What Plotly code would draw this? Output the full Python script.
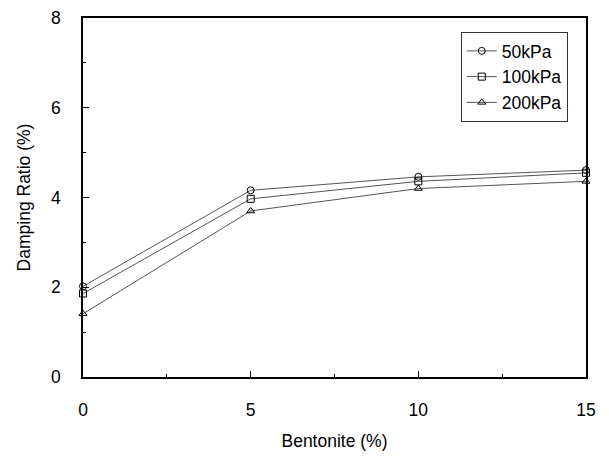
import plotly.graph_objects as go

bentonite = [0, 5, 10, 15]
series_names = ["50kPa", "100kPa", "200kPa"]
damping_50 = [2.02, 4.16, 4.46, 4.61]
damping_100 = [1.86, 3.97, 4.36, 4.55]
damping_200 = [1.41, 3.70, 4.20, 4.36]
x_ticks = [0, 5, 10, 15]
y_ticks = [0, 2, 4, 6, 8]

symbols = ["circle-open", "square-open", "triangle-up-open"]
values = [damping_50, damping_100, damping_200]

fig = go.Figure()
for name, ys, sym in zip(series_names, values, symbols):
    fig.add_trace(go.Scatter(
        x=bentonite, y=ys, name=name, mode="lines+markers",
        line=dict(color="#555555", width=1),
        marker=dict(symbol=sym, size=7, color="black", line=dict(color="black", width=1)),
        cliponaxis=False,
    ))

font = "Liberation Sans, Arial, sans-serif"
# page body has an 8px default margin; figure sized so it fits 609x460 window
fig.update_layout(
    width=593, height=444,
    margin=dict(l=75, r=15, t=10, b=75, autoexpand=False),
    paper_bgcolor="white", plot_bgcolor="white",
    font=dict(family=font, size=17.5, color="black"),
    showlegend=True,
    legend=dict(x=0.751, y=0.961, xanchor="left", yanchor="top",
                bgcolor="white", bordercolor="#333333", borderwidth=1,
                font=dict(size=17.5), tracegroupgap=0, itemwidth=30),
)
fig.update_xaxes(
    range=[0, 15], tickvals=x_ticks, ticktext=[str(v) for v in x_ticks],
    showgrid=False, zeroline=False, automargin=False, ticklabeloverflow="allow",
    showline=True, linecolor="black", linewidth=1.5, mirror=True,
    ticks="inside", ticklen=6, tickcolor="black", tickwidth=1,
    minor=dict(dtick=2.5, ticks="inside", ticklen=3, tickcolor="black", showgrid=False),
    ticklabelstandoff=16,
    title=dict(text="Bentonite (%)", standoff=16, font=dict(size=17.5)),
)
fig.update_yaxes(
    range=[0, 8], tickvals=y_ticks, ticktext=[str(v) for v in y_ticks],
    showgrid=False, zeroline=False, automargin=False, ticklabeloverflow="allow",
    showline=True, linecolor="black", linewidth=1.5, mirror=True,
    ticks="inside", ticklen=6, tickcolor="black", tickwidth=1,
    minor=dict(dtick=1, ticks="inside", ticklen=3, tickcolor="black", showgrid=False),
    ticklabelstandoff=17,
    title=dict(text="Damping Ratio (%)", standoff=16, font=dict(size=17.5)),
)

fig.write_html("out.html")
